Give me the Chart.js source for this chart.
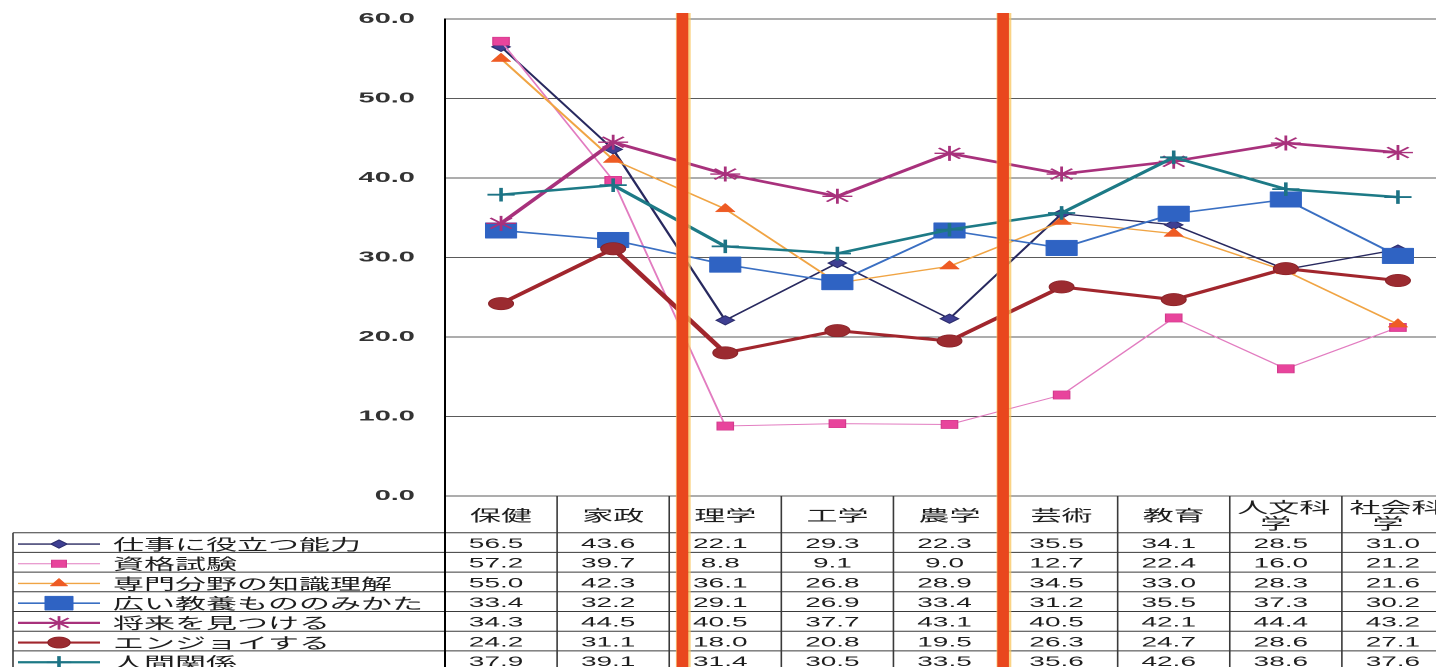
<!DOCTYPE html>
<html lang="ja">
<head>
<meta charset="utf-8">
<title>学部別 学習の目的</title>
<script src="https://cdn.jsdelivr.net/npm/chart.js@4/dist/chart.umd.min.js"></script>
<style>
  html, body { margin: 0; padding: 0; background: #fff; overflow: hidden; width: 1436px; height: 667px; }
  /* the chart is drawn at half width and widened horizontally */
  #wrap { position: absolute; left: 0; top: 0; transform: scaleX(2); transform-origin: 0 0; }
  canvas { display: block; }
</style>
</head>
<body>
<div id="wrap"><canvas id="c" width="730" height="667"></canvas></div>
<script>
// ---- data ----
const categories = ['保健', '家政', '理学', '工学', '農学', '芸術', '教育', '人文科学', '社会科学'];
const seriesNames = ['仕事に役立つ能力', '資格試験', '専門分野の知識理解', '広い教養もののみかた', '将来を見つける', 'エンジョイする', '人間関係'];
const shigoto  = [56.5, 43.6, 22.1, 29.3, 22.3, 35.5, 34.1, 28.5, 31.0];
const shikaku  = [57.2, 39.7,  8.8,  9.1,  9.0, 12.7, 22.4, 16.0, 21.2];
const senmon   = [55.0, 42.3, 36.1, 26.8, 28.9, 34.5, 33.0, 28.3, 21.6];
const kyoyo    = [33.4, 32.2, 29.1, 26.9, 33.4, 31.2, 35.5, 37.3, 30.2];
const shorai   = [34.3, 44.5, 40.5, 37.7, 43.1, 40.5, 42.1, 44.4, 43.2];
const enjoy    = [24.2, 31.1, 18.0, 20.8, 19.5, 26.3, 24.7, 28.6, 27.1];
const ningen   = [37.9, 39.1, 31.4, 30.5, 33.5, 35.6, 42.6, 38.6, 37.6];
const yTicks      = [0, 10, 20, 30, 40, 50, 60];
const yTickLabels = ['0.0', '10.0', '20.0', '30.0', '40.0', '50.0', '60.0'];

// ---- styles ----
const seriesValues = [shigoto, shikaku, senmon, kyoyo, shorai, enjoy, ningen];
const seriesStyles = [
  { line: '#28295f', width: 1.3, point: 'rectRot',  r: 4.6, fill: '#3e3f92', stroke: '#2c2d6c', bw: 0.8 },
  { line: '#e27cc0', width: 1.0, point: 'rect',     r: 5.8, fill: '#e8449c', stroke: '#d23a8c', bw: 0.6 },
  { line: '#f0a444', width: 1.3, point: 'triangle', r: 5.6, fill: '#ee5b24', stroke: '#ee5b24', bw: 0.5 },
  { line: '#3a6fc2', width: 1.6, point: 'rect',     r: 11,  fill: '#2f63c3', stroke: '#2f63c3', bw: 0.5 },
  { line: '#a8317c', width: 2.6, point: 'star',     r: 7.5, fill: '#a8317c', stroke: '#a8317c', bw: 1.4 },
  { line: '#a1262d', width: 3.0, point: 'circle',   r: 6.2, fill: '#9b2b30', stroke: '#8a2228', bw: 0.6 },
  { line: '#1d7a86', width: 2.5, point: 'cross',    r: 6.8, fill: '#1d7385', stroke: '#1d7385', bw: 1.8 }
];
// thick marker lines separating groups of faculties, in category units
const dividerPositions = [1.62, 4.48];

const tickFont  = { family: "'Liberation Sans', Arial, sans-serif", size: 14.5, weight: 'bold' };
const numFont   = "14px 'Liberation Sans', Arial, sans-serif";
const labelFont = "15.5px 'Noto Sans CJK JP', 'Noto Sans CJK SC', sans-serif";

const datasets = seriesNames.map((name, i) => {
  const s = seriesStyles[i];
  return {
    label: name,
    data: seriesValues[i],
    borderColor: s.line,
    borderWidth: s.width,
    pointStyle: s.point,
    pointRadius: s.r,
    pointBackgroundColor: s.fill,
    pointBorderColor: s.stroke,
    pointBorderWidth: s.bw,
    tension: 0,
    fill: false,
    clip: false,
    order: seriesNames.length - 1 - i
  };
});

function strokeLine(ctx, x1, y1, x2, y2) {
  ctx.beginPath(); ctx.moveTo(x1, y1); ctx.lineTo(x2, y2); ctx.stroke();
}
function headerLines(label) {
  return label.length > 3 ? [label.slice(0, 3), label.slice(3)] : [label];
}

// data table under the plot: header row, legend column and values
const dataTable = {
  id: 'dataTable',
  afterDraw(chart) {
    const ctx = chart.ctx, xs = chart.scales.x, area = chart.chartArea;
    const colW = xs.getPixelForValue(1) - xs.getPixelForValue(0);
    const headTop = area.bottom, headBottom = headTop + 36.7, rowH = 19.7;
    const boxLeft = 6.5, right = chart.width, bottom = chart.height;
    ctx.save();
    ctx.strokeStyle = '#3a3a3a';
    ctx.lineWidth = 1;
    for (let r = 0; r <= chart.data.datasets.length; r++) {
      const y = headBottom + r * rowH;
      strokeLine(ctx, boxLeft, y, right, y);
    }
    ctx.lineWidth = 0.8;
    strokeLine(ctx, boxLeft, headBottom, boxLeft, bottom);
    for (let k = 0; k <= categories.length; k++) {
      const bx = xs.getPixelForValue(k) - colW / 2;
      ctx.lineWidth = k === 0 ? 1 : 0.8;
      ctx.strokeStyle = k === 0 ? '#000' : '#3a3a3a';
      strokeLine(ctx, bx, headTop, bx, bottom);
    }
    // header
    ctx.fillStyle = '#1e1e1e';
    ctx.font = labelFont;
    ctx.textAlign = 'center';
    ctx.textBaseline = 'middle';
    categories.forEach((c, k) => {
      const cx = xs.getPixelForValue(k);
      const lines = headerLines(c);
      if (lines.length === 1) ctx.fillText(lines[0], cx, 515);
      else { ctx.fillText(lines[0], cx - 1, 507); ctx.fillText(lines[1], cx - 5, 523); }
    });
    // rows
    chart.data.datasets.forEach((ds, r) => {
      const cy = headBottom + r * rowH + rowH / 2 + 1.5;
      ctx.strokeStyle = ds.borderColor;
      ctx.lineWidth = Math.min(ds.borderWidth, 2.2);
      strokeLine(ctx, 9, cy, 50, cy);
      ctx.fillStyle = ds.pointBackgroundColor;
      ctx.strokeStyle = ds.pointBorderColor;
      ctx.lineWidth = ds.pointBorderWidth;
      Chart.helpers.drawPoint(ctx, {
        pointStyle: ds.pointStyle, radius: ds.pointRadius * 0.9,
        borderWidth: ds.pointBorderWidth, rotation: 0
      }, 29.5, cy);
      ctx.fillStyle = '#1e1e1e';
      ctx.font = labelFont;
      ctx.textAlign = 'left';
      ctx.fillText(ds.label, 56.5, cy);
      ctx.font = numFont;
      ctx.textAlign = 'center';
      ds.data.forEach((v, k) => {
        ctx.fillText(v.toFixed(1), xs.getPixelForValue(k) - 2.5, cy);
      });
    });
    ctx.restore();
  }
};

// two thick orange-red marker lines across plot and table
const dividers = {
  id: 'dividers',
  afterDraw(chart) {
    const ctx = chart.ctx, xs = chart.scales.x;
    ctx.save();
    dividerPositions.forEach(p => {
      const px = xs.getPixelForValue(p);
      ctx.fillStyle = 'rgba(248, 196, 92, 0.75)';
      ctx.fillRect(px - 3.4, 13, 7.4, chart.height);
      ctx.fillStyle = '#e9471e';
      ctx.fillRect(px - 3.0, 13, 5.8, chart.height);
    });
    ctx.restore();
  }
};

new Chart(document.getElementById('c'), {
  type: 'line',
  data: { labels: categories, datasets },
  options: {
    responsive: false,
    devicePixelRatio: 2,
    animation: false,
    events: [],
    layout: { autoPadding: false, padding: { top: 19, right: 3, left: 0, bottom: 0 } },
    plugins: { legend: { display: false }, tooltip: { enabled: false } },
    scales: {
      x: {
        type: 'category',
        offset: true,
        grid: { display: false, drawTicks: false },
        border: { display: false },
        ticks: { display: false },
        afterFit(s) { s.height = 171; }
      },
      y: {
        min: 0, max: 60,
        afterBuildTicks(s) { s.ticks = yTicks.map(v => ({ value: v })); },
        ticks: {
          padding: 0,
          color: '#333',
          font: tickFont,
          callback: v => yTickLabels[yTicks.indexOf(v)]
        },
        grid: { color: '#5a5a5a', lineWidth: 1, drawTicks: true, tickLength: 15, tickColor: 'rgba(0,0,0,0)' },
        border: { color: '#000', width: 1 },
        afterFit(s) { s.width = 222.5; }
      }
    }
  },
  plugins: [dataTable, dividers]
});
</script>
</body>
</html>
